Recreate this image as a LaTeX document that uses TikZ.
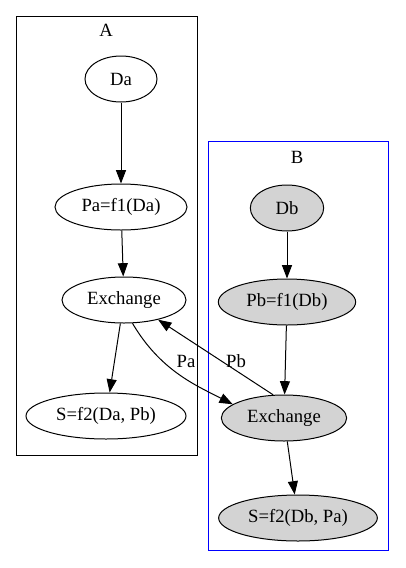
\documentclass[tikz,border=0pt]{standalone}
\usepackage{fontspec}
\setmainfont{Liberation Serif}
\usetikzlibrary{shapes.geometric, arrows.meta}
\definecolor{nodegray}{HTML}{D3D3D3}

\begin{document}
\begin{tikzpicture}[
    x=0.75pt, y=-0.75pt,
    font=\fontsize{14}{16}\selectfont,
    state/.style={ellipse, draw, line width=0.75pt, inner sep=0pt, minimum height=34.5pt},
    shared/.style={state, fill=nodegray},
    edge/.style={-{Triangle[length=10pt, width=7.5pt]}, line width=0.75pt},
    cluster/.style={line width=0.75pt}
]
    \useasboundingbox (0, 0) rectangle (405, 568);

    % cluster A
    \draw[cluster, black] (16, 16) rectangle (197, 455);
    \node (LA) at (106, 30) {A};

    \node[state, minimum width=54pt] (Da) at (121, 79) {Da};
    \node[state, minimum width=99pt] (Pa) at (121, 207) {Pa=f1(Da)};
    \node[state, minimum width=93pt] (XA) at (124, 300) {Exchange};
    \node[state, minimum width=120pt] (SA) at (106, 416) {S=f2(Da, Pb)};

    % cluster B
    \draw[cluster, blue] (208, 141) rectangle (388, 550);
    \node (LB) at (297, 157) {B};

    \node[shared, minimum width=55pt] (Db) at (287, 208) {Db};
    \node[shared, minimum width=103pt] (Pb) at (287, 302) {Pb=f1(Db)};
    \node[shared, minimum width=94pt] (XB) at (284, 418) {Exchange};
    \node[shared, minimum width=119pt] (SB) at (298, 518) {S=f2(Db, Pa)};

    \draw[edge] (Da) -- (Pa);
    \draw[edge] (Pa) -- (XA);
    \draw[edge] (XA) -- (SA);

    \draw[edge] (Db) -- (Pb);
    \draw[edge] (Pb) -- (XB);
    \draw[edge] (XB) -- (SB);

    \draw[edge] (XA.290) .. controls (160, 370) and (195, 385) .. (XB.165);
    \draw[edge] (XB.115) -- (XA.330);

    \node (EPa) at (186, 361) {Pa};
    \node (EPb) at (236, 361) {Pb};
\end{tikzpicture}
\end{document}
